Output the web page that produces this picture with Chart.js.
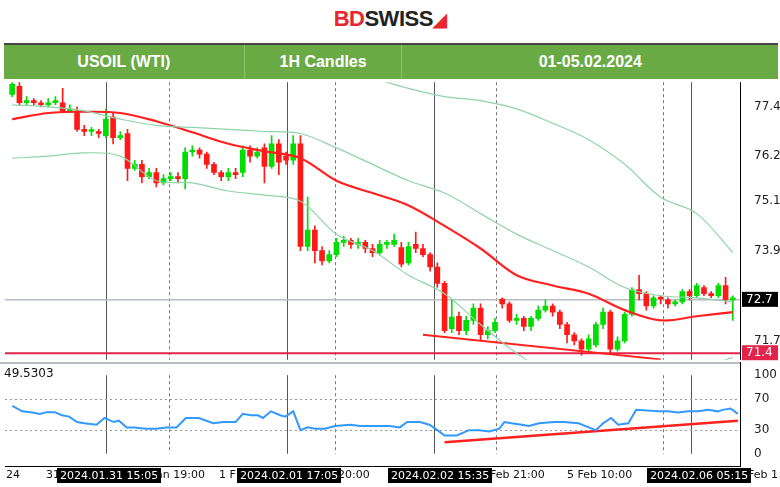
<!DOCTYPE html>
<html>
<head>
<meta charset="utf-8">
<script src="https://cdn.jsdelivr.net/npm/chart.js@4"></script>
<style>
  body { margin: 0; width: 780px; height: 487px; background: #fff; font-family: "Liberation Sans", Arial, sans-serif; overflow: hidden; }
  #logo { position: absolute; top: 6px; left: 0; width: 780px; text-align: center; font: bold 22px "Liberation Sans", Arial; letter-spacing: -0.5px; }
  #logo .bd { color: #e8262f; } #logo .sw { color: #222; }
  #bar { position: absolute; top: 43px; left: 4px; width: 774px; height: 34px; background: #6aaa45; border-top: 2px solid #444; display: flex; color: #fff; font: bold 16px "Liberation Sans", Arial; }
  #bar div { display: flex; align-items: center; justify-content: center; border-right: 1px solid #8cc26c; }
  #main { position: absolute; top: 69px; left: 0; }
  #rsi { position: absolute; top: 362px; left: 0; }
  .t { position: absolute; top: 468px; font: 11px "DejaVu Sans", sans-serif; color: #111; white-space: nowrap; }
  .b { background: #000; color: #fff; padding: 1px 3px; }
</style>
</head>
<body>
<div id="logo"><span class="bd">BD</span><span class="sw">SWISS</span><span class="bd" style="font-size:18px">&#9698;</span></div>
<div id="bar">
  <div style="width:240px">USOIL (WTI)</div>
  <div style="width:157px">1H Candles</div>
  <div style="width:376px;border-right:none">01-05.02.2024</div>
</div>
<canvas id="main" width="780" height="304"></canvas>
<canvas id="rsi" width="780" height="105"></canvas>
<div class="t" style="left:4px;top:366px;font-size:12px">49.5303</div>
<div class="t" style="left:6px">24</div>
<div class="t" style="left:46px">31</div>
<div class="t b" style="left:57px">2024.01.31 15:05</div>
<div class="t" style="left:156px">an 19:00</div>
<div class="t" style="left:219px">1 F</div>
<div class="t b" style="left:237px">2024.02.01 17:05</div>
<div class="t" style="left:338px">20:00</div>
<div class="t b" style="left:388px">2024.02.02 15:35</div>
<div class="t" style="left:490px">Feb 21:00</div>
<div class="t" style="left:567px">5 Feb 10:00</div>
<div class="t b" style="left:647px">2024.02.06 05:15</div>
<div class="t" style="left:748px">Feb 1</div>
<script>
"use strict";

const opens = [77.7,77.9,77.5,77.55,77.5,77.45,77.5,77.5,77.3,77.3,76.85,76.8,76.8,76.7,77.15,76.65,76.75,75.9,76.0,75.7,75.8,75.55,75.65,75.7,75.65,76.3,76.35,76.25,76.0,75.8,75.7,75.8,75.8,76.35,76.2,76.4,75.95,76.5,76.2,76.1,76.5,74.0,74.4,73.9,73.65,73.8,74.1,74.15,74.05,74.1,73.95,73.85,74.05,74.05,73.97,73.6,74.05,73.95,73.8,73.5,73.1,72.0,72.3,71.95,72.2,72.5,71.85,71.95,72.72,72.6,72.2,72.25,72.05,72.25,72.45,72.55,72.4,72.1,71.85,71.7,71.5,71.6,72.1,72.4,71.5,71.7,72.35,72.95,72.85,72.55,72.75,72.7,72.6,72.65,72.9,72.8,73.0,72.85,72.8,73.05,72.7];
const closes = [77.95,77.5,77.55,77.5,77.45,77.5,77.55,77.3,77.35,76.85,76.8,76.82,76.75,77.1,76.65,76.7,75.9,76.0,75.7,75.8,75.55,75.65,75.7,75.65,76.3,76.35,76.25,76.0,75.8,75.7,75.8,75.75,76.35,76.2,76.3,75.95,76.5,76.05,76.1,76.5,74.0,74.4,73.9,73.65,73.8,74.1,74.15,74.05,74.1,73.95,73.85,74.05,74.07,74.15,73.57,74.0,73.95,73.8,73.5,73.1,71.95,72.28,71.95,72.2,72.5,71.85,71.95,72.15,72.6,72.2,72.25,72.05,72.25,72.45,72.55,72.4,72.1,71.85,71.7,71.5,71.75,72.1,72.4,71.5,71.7,72.35,72.95,72.85,72.55,72.75,72.72,72.6,72.65,72.9,72.8,73.05,72.85,72.8,73.05,72.7,72.72];
const highs = [78.0,78.0,77.65,77.6,77.55,77.6,77.65,77.85,77.45,77.4,76.95,76.9,76.85,77.35,77.25,76.8,76.85,76.1,76.1,75.9,75.9,75.75,75.8,75.8,76.4,76.45,76.4,76.3,76.05,75.85,75.9,75.9,76.45,76.45,76.4,76.5,76.7,76.6,76.3,76.7,76.7,75.2,74.5,74.0,73.9,74.2,74.25,74.2,74.2,74.15,74.05,74.15,74.15,74.3,74.1,74.1,74.35,74.05,73.85,73.6,73.15,72.7,72.4,72.3,72.6,72.6,72.05,72.25,72.75,72.65,72.35,72.3,72.3,72.55,72.7,72.6,72.45,72.15,71.9,71.75,71.85,72.15,72.5,72.45,71.8,72.4,73.0,73.3,72.9,72.8,72.8,72.75,72.7,72.95,72.95,73.1,73.05,72.9,73.1,73.25,72.8];
const lows = [77.65,77.45,77.45,77.45,77.4,77.4,77.45,77.25,77.25,76.8,76.7,76.7,76.65,76.65,76.5,76.6,75.6,75.85,75.55,75.65,75.45,75.5,75.6,75.55,75.4,76.2,76.15,75.9,75.75,75.6,75.6,75.65,75.7,76.05,76.15,75.55,75.9,75.75,76.0,76.0,73.9,73.9,73.6,73.55,73.6,73.75,74.0,73.95,73.95,73.85,73.75,73.8,73.95,74.0,73.5,73.55,73.85,73.75,73.4,73.0,71.9,71.9,71.85,71.85,72.1,71.7,71.75,71.9,72.5,72.15,72.1,71.95,71.95,72.2,72.4,72.3,72.0,71.65,71.6,71.35,71.45,71.55,72.0,71.4,71.45,71.65,72.3,72.7,72.45,72.5,72.6,72.5,72.55,72.6,72.7,72.75,72.8,72.75,72.75,72.6,72.2];

// moving average and envelope bands, sampled every 5 candles
const bandIdx = [0,5,10,15,20,25,30,35,40,45,50,55,60,65,70,75,80,85,90,95,100];
const maMid   = [77.1,77.25,77.28,77.25,77.05,76.78,76.5,76.32,76.15,75.6,75.3,75.0,74.5,73.95,73.3,73.05,72.85,72.45,72.2,72.3,72.4];
const bandUp  = [77.45,77.4,77.3,77.1,76.95,76.9,76.85,76.8,76.75,76.4,76.0,75.6,75.3,74.8,74.3,73.9,73.5,73.0,72.8,72.75,72.65];
const bandLow = [76.15,76.2,76.28,76.2,75.6,75.55,75.35,75.25,75.1,74.3,73.9,73.3,72.85,72.1,71.4,70.9,70.7,70.6,70.6,71.0,71.3];
const outerIdx = [50,55,60,65,70,75,80,85,90,95,100];
const bandOuter = [78.1,77.85,77.65,77.55,77.35,77.0,76.6,76.0,75.2,74.8,73.85];

const priceTicks = [77.4,76.2,75.1,73.9,71.7];
const lastPrice = 72.7, levelPrice = 71.4;
const trendIdx = [57,90], trendVal = [71.85,71.25];

const rsiIdx = [0,1.4,2.8,3.8,4.8,5.9,6.9,7.9,9,10,11.7,12.8,14.1,14.8,15.9,16.9,18.6,20,21.4,22.8,24.1,25.9,27.9,29.3,31,32,33.1,34.1,34.8,35.9,37.2,37.9,39,40,41,42,43.4,44.8,46.9,48.3,50.3,52.4,53.8,54.8,56.6,57.9,59,60,61.7,63.4,64.8,66.2,67.6,68.3,69.3,70.7,71.7,73.1,75.2,76.6,78.6,80,81,82,83.1,84.1,85.5,86.6,89.7,91,92.4,93.8,95.2,96.6,97.9,98.6,99.7,100.7];
const rsiVal = [61,54,52.5,50.8,53,53,49,47.3,40.4,38.8,37,45.6,40.4,42.2,33.6,33.6,31.9,31.9,33.6,33.6,45.6,45.6,38.8,40.4,40.4,50.8,49,49,45.6,54,49,47.3,54,30.1,33.6,31.9,31.9,35.3,37,35.3,35.3,35.3,33.6,40.4,40.4,37,30.1,23.3,23.3,30.1,30.1,28.5,31.9,40.4,38.8,37,35.3,38.8,40.4,40.4,38.8,33.6,30.1,38.8,45.6,37,38.8,55.9,54,54,52.5,54,54,55.9,54,55.9,57.6,50.8,50.8];
const rsiTrendIdx = [60,100.7], rsiTrendVal = [14.7,42.2];
const rsiTicks = [0,30,70,100];

const solidLines = [13, 38.2, 58.6, 94.2];
const dashLines = [21.8, 44.8, 67.2, 90.3];

const up = "#00dd00", down = "#ff1a1a";
const xMin = -1, xMax = 101;

function pts(idx, vals) { return idx.map((x, i) => ({ x: x, y: vals[i] })); }

const vlines = {
  id: "vlines",
  beforeDatasetsDraw(chart) {
    const { ctx, chartArea: a, scales: { x } } = chart;
    ctx.save();
    ctx.lineWidth = 1;
    ctx.strokeStyle = "#555";
    solidLines.forEach(v => { const px = Math.round(x.getPixelForValue(v)) + 0.5; ctx.beginPath(); ctx.moveTo(px, a.top); ctx.lineTo(px, a.bottom); ctx.stroke(); });
    ctx.setLineDash([3, 3]);
    ctx.strokeStyle = "#777";
    dashLines.forEach(v => { const px = Math.round(x.getPixelForValue(v)) + 0.5; ctx.beginPath(); ctx.moveTo(px, a.top); ctx.lineTo(px, a.bottom); ctx.stroke(); });
    ctx.restore();
  }
};

const levels = {
  id: "levels",
  beforeDatasetsDraw(chart) {
    const { ctx, chartArea: a, scales: { y } } = chart;
    ctx.save();
    let py = y.getPixelForValue(lastPrice);
    ctx.strokeStyle = "#b8bcc4"; ctx.lineWidth = 1.5;
    ctx.beginPath(); ctx.moveTo(a.left, py); ctx.lineTo(a.right, py); ctx.stroke();
    py = y.getPixelForValue(levelPrice);
    ctx.strokeStyle = "#e0244a"; ctx.lineWidth = 2;
    ctx.beginPath(); ctx.moveTo(a.left, py); ctx.lineTo(a.right, py); ctx.stroke();
    ctx.restore();
  },
  afterDraw(chart) {
    const { ctx, chartArea: a, scales: { y } } = chart;
    ctx.save();
    ctx.font = "12px 'DejaVu Sans'";
    ctx.textBaseline = "middle";
    [[lastPrice, "#000"], [levelPrice, "#e0244a"]].forEach(([v, c]) => {
      const py = y.getPixelForValue(v);
      ctx.fillStyle = c; ctx.fillRect(a.right + 2, py - 8, 36, 15);
      ctx.fillStyle = "#fff"; ctx.fillText(v.toFixed(1), a.right + 6, py);
    });
    ctx.strokeStyle = "#000"; ctx.lineWidth = 1;
    ctx.beginPath(); ctx.moveTo(a.right + 0.5, a.top); ctx.lineTo(a.right + 0.5, a.bottom); ctx.stroke();
    ctx.restore();
  }
};

const lineDs = (data, color, width) => ({ type: "line", data: data, borderColor: color, borderWidth: width, pointRadius: 0, tension: 0.35, fill: false });

new Chart(document.getElementById("main"), {
  data: {
    datasets: [
      lineDs(pts(bandIdx, bandUp), "#8fd4a8", 1.2),
      lineDs(pts(bandIdx, bandLow), "#8fd4a8", 1.2),
      lineDs(pts(outerIdx, bandOuter), "#8fd4a8", 1.2),
      lineDs(pts(bandIdx, maMid), "#ff2020", 2.2),
      Object.assign(lineDs(pts(trendIdx, trendVal), "#ff2020", 2), { tension: 0 }),
      { type: "bar", data: opens.map((o, i) => ({ x: i, y: [lows[i], highs[i]] })),
        backgroundColor: opens.map((o, i) => closes[i] >= o ? up : down), barThickness: 1, grouped: false },
      { type: "bar", data: opens.map((o, i) => ({ x: i, y: [o, closes[i]] })),
        backgroundColor: opens.map((o, i) => closes[i] >= o ? up : down), barThickness: 5, minBarLength: 2, grouped: false }
    ]
  },
  options: {
    responsive: false, animation: false,
    layout: { padding: { left: 5, top: 0, bottom: 0, right: 0 } },
    plugins: { legend: { display: false }, tooltip: { enabled: false } },
    scales: {
      x: { type: "linear", min: xMin, max: xMax, display: false, offset: false, grid: { offset: false } },
      y: { position: "right", min: 71.24, max: 78.0,
        afterBuildTicks: s => { s.ticks = priceTicks.map(v => ({ value: v })); },
        afterFit: s => { s.width = 40; },
        grid: { display: false }, border: { display: false },
        ticks: { color: "#222", font: { size: 12, family: "DejaVu Sans" }, padding: 6, callback: v => v.toFixed(1) } }
    }
  },
  plugins: [vlines, levels]
});

const rsiGrid = {
  id: "rsiGrid",
  beforeDatasetsDraw(chart) {
    const { ctx, chartArea: a, scales: { y } } = chart;
    ctx.save();
    ctx.strokeStyle = "#999"; ctx.lineWidth = 1; ctx.setLineDash([2, 3]);
    [30, 70].forEach(v => { const py = Math.round(y.getPixelForValue(v)) + 0.5; ctx.beginPath(); ctx.moveTo(a.left, py); ctx.lineTo(a.right, py); ctx.stroke(); });
    ctx.setLineDash([]);
    ctx.strokeStyle = "#b8bcc4"; ctx.lineWidth = 2;
    ctx.beginPath(); ctx.moveTo(0, 1); ctx.lineTo(a.right, 1); ctx.stroke();
    ctx.strokeStyle = "#000"; ctx.lineWidth = 1;
    ctx.beginPath(); ctx.moveTo(a.right + 0.5, 0); ctx.lineTo(a.right + 0.5, chart.height); ctx.stroke();
    ctx.beginPath(); ctx.moveTo(a.left, chart.height - 0.5); ctx.lineTo(a.right, chart.height - 0.5); ctx.stroke();
    ctx.restore();
  }
};

new Chart(document.getElementById("rsi"), {
  data: {
    datasets: [
      Object.assign(lineDs(pts(rsiIdx, rsiVal), "#3399ff", 2), { tension: 0 }),
      Object.assign(lineDs(pts(rsiTrendIdx, rsiTrendVal), "#ff2020", 2.5), { tension: 0 })
    ]
  },
  options: {
    responsive: false, animation: false,
    layout: { padding: { left: 5, top: 6, bottom: 4, right: 0 } },
    plugins: { legend: { display: false }, tooltip: { enabled: false } },
    scales: {
      x: { type: "linear", min: xMin, max: xMax, display: false },
      y: { position: "right", min: 0, max: 100,
        afterBuildTicks: s => { s.ticks = rsiTicks.map(v => ({ value: v })); },
        afterFit: s => { s.width = 40; },
        grid: { display: false }, border: { display: false },
        ticks: { color: "#222", font: { size: 12, family: "DejaVu Sans" }, padding: 6 } }
    }
  },
  plugins: [vlines, rsiGrid]
});
</script>
</body>
</html>
